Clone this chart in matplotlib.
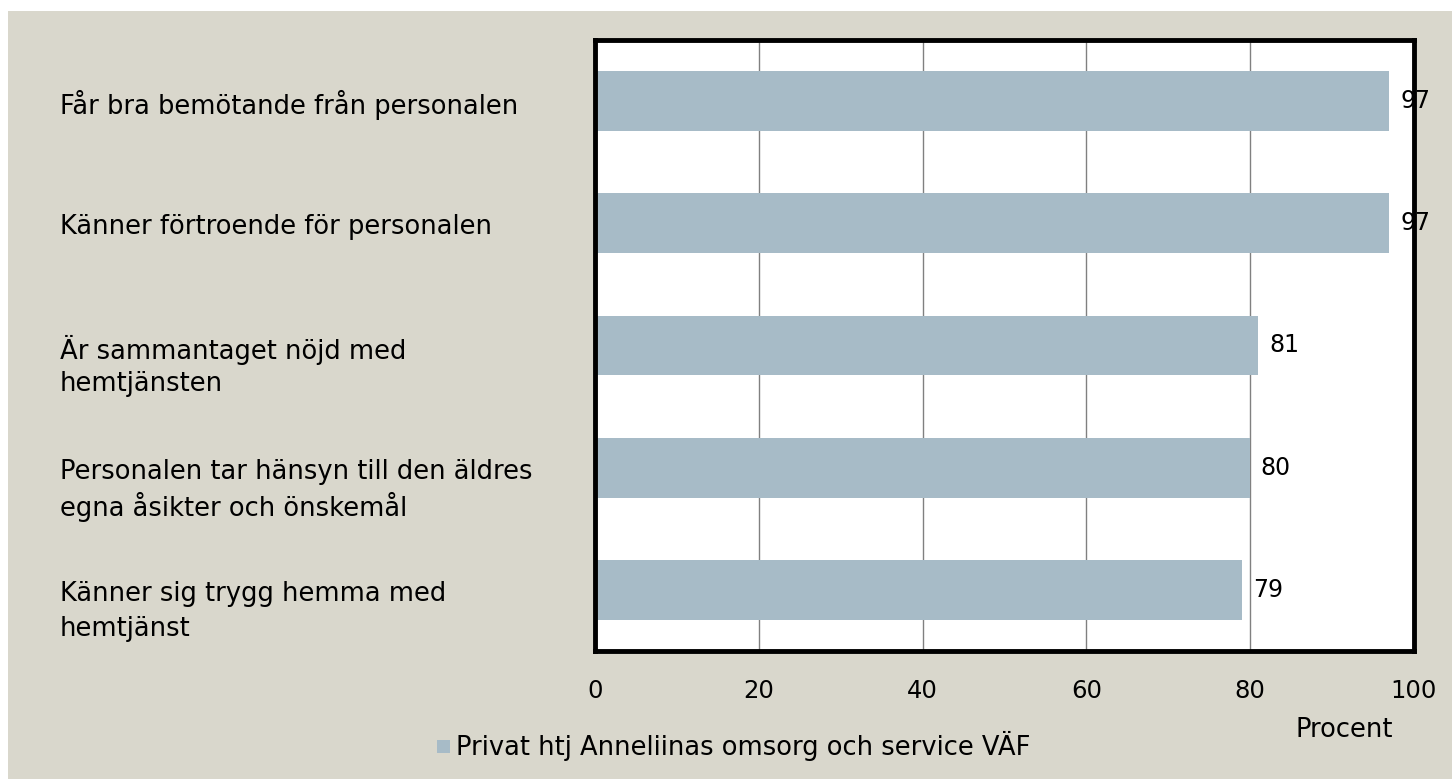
import numpy as np
import matplotlib.pyplot as plt
from matplotlib.patches import Rectangle

# Данные
kategorier = ['Får bra bemötande från personalen',
              'Känner förtroende för personalen',
              'Är sammantaget nöjd med\nhemtjänsten',
              'Personalen tar hänsyn till den äldres\negna åsikter och önskemål',
              'Känner sig trygg hemma med\nhemtjänst']
varden = [97, 97, 81, 80, 79]
xticks = [0, 20, 40, 60, 80, 100]
serie_namn = 'Privat htj Anneliinas omsorg och service VÄF'

W, H = 1452, 779
fig = plt.figure(figsize=(W / 100, H / 100), dpi=100, facecolor='white')
fig.patches.append(Rectangle((8 / W, 0), 1 - 8 / W, 1 - 11 / H, transform=fig.transFigure,
                             facecolor='#D9D7CC', edgecolor='none', zorder=-10))

ax = fig.add_axes([595 / W, 1 - 651 / H, (1414 - 595) / W, (651 - 40) / H])
ax.set_zorder(5)
ax.set_facecolor('white')

y = np.arange(len(kategorier))
ax.barh(y, varden, height=0.49, color='#A7BBC7', zorder=2)
ax.set_xlim(0, 100)
ax.set_ylim(len(kategorier) - 0.5, -0.5)
ax.set_xticks(xticks)
ax.set_yticks([])
ax.xaxis.grid(True, color='#808080', linewidth=1, zorder=1)
ax.set_axisbelow(True)
ax.tick_params(axis='x', length=0, labelsize=17.5, pad=20)
for s in ax.spines.values():
    s.set_linewidth(3.5)
    s.set_color('black')

for yi, v in zip(y, varden):
    ax.text(v + 1.3, yi, str(v), va='center', ha='left', fontsize=17, zorder=5, clip_on=False)

# подписи категорий слева: первая строка на уровне столбца, вторая ниже
for yi, k in zip(y, kategorier):
    ypix = ax.transData.transform((0, yi))[1]
    for j, line in enumerate(k.split('\n')):
        fig.text(60 / W, (ypix - 4 - j * 35) / H, line, ha='left', va='center', fontsize=18.5)

fig.text(1344 / W, 1 - 730 / H, 'Procent', ha='center', va='center', fontsize=18.5)

# легенда
fig.patches.append(Rectangle((437 / W, 1 - 753 / H), 13 / W, 13 / H, transform=fig.transFigure,
                             facecolor='#A7BBC7', edgecolor='none'))
fig.text(456 / W, 1 - 746 / H, serie_namn, ha='left', va='center', fontsize=18.5)

fig.savefig('out.png', dpi=100, facecolor=fig.get_facecolor())
